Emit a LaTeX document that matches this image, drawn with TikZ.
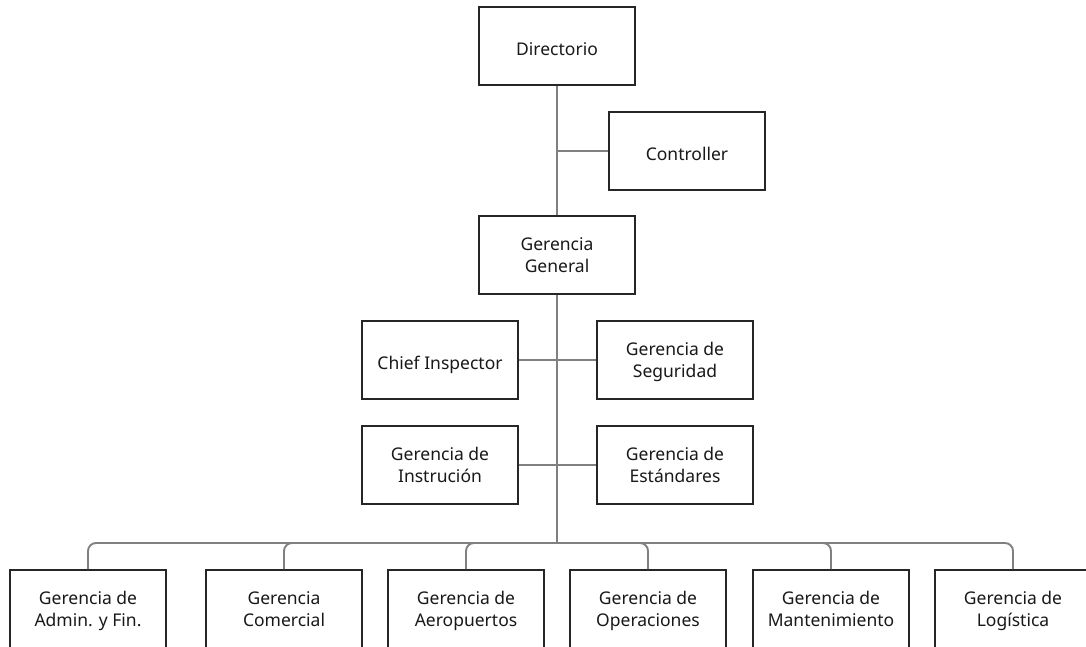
\documentclass[tikz,border=0pt]{standalone}
\usepackage{fontspec}
\setmainfont{Noto Sans}
\newcommand{\twoln}[2]{\begin{tabular}{@{}c@{}}#1\\#2\end{tabular}}
\tikzset{
	unit/.style={draw=black!85, line width=1.8pt, fill=white, minimum width=156pt, minimum height=78pt,
		inner sep=0pt, text=black!90, font=\fontsize{17.5}{21.5}\selectfont,
		execute at begin node={\rule{0pt}{25pt}}, execute at end node={\rule[-6.5pt]{0pt}{6.5pt}}},
	pair/.style={unit, execute at begin node={\rule{0pt}{30pt}}},
	link/.style={draw=black!50, line width=1.9pt},
}
\begin{document}
\begin{tikzpicture}[x=1pt,y=-1pt]
			\useasboundingbox (0,0) rectangle (1086,646);
			\clip (0,0) rectangle (1086,646);

			% top of the chart
			\node[unit] (dir) at (557,46) {Directorio};
			\node[unit] (ctrl) at (687,151) {Controller};
			\node[pair] (gg) at (557,255) {\twoln{Gerencia}{General}};

			% staff units
			\node[unit] (chief) at (440,360) {Chief Inspector};
			\node[pair] (seg) at (675,360) {\twoln{Gerencia de}{Seguridad}};
			\node[pair] (instr) at (440,465) {\twoln{Gerencia de}{Instrución}};
			\node[pair] (std) at (675,465) {\twoln{Gerencia de}{Estándares}};

			% line units
			\node[pair] (adm) at (88,609) {\twoln{Gerencia de}{Admin. y Fin.}};
			\node[pair] (com) at (284,609) {\twoln{Gerencia}{Comercial}};
			\node[pair] (aer) at (466,609) {\twoln{Gerencia de}{Aeropuertos}};
			\node[pair] (ope) at (648,609) {\twoln{Gerencia de}{Operaciones}};
			\node[pair] (man) at (831,609) {\twoln{Gerencia de}{Mantenimiento}};
			\node[pair] (log) at (1013,609) {\twoln{Gerencia de}{Logística}};

			\coordinate (bus) at (557,543);

			\begin{scope}[on background layer/.try]
			\draw[link] (dir.south) -- (gg.north);
			\draw[link] (dir.south |- ctrl.west) -- (ctrl.west);
			\draw[link] (gg.south) -- (bus);
			\draw[link] (chief.east) -- (seg.west);
			\draw[link] (instr.east) -- (std.west);
			\foreach \u in {adm,com,aer,ope,man,log}
				\draw[link,rounded corners=8pt] (bus) -| (\u.north);
			\end{scope}
			\end{tikzpicture}
\end{document}
